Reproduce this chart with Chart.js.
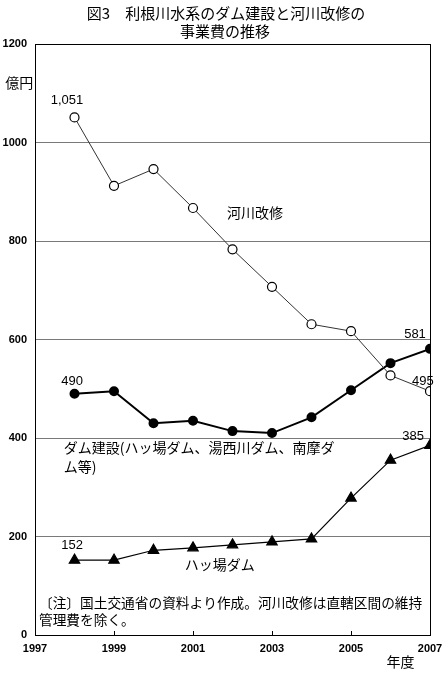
<!DOCTYPE html>
<html><head><meta charset="utf-8">
<script src="https://cdn.jsdelivr.net/npm/chart.js@4/dist/chart.umd.min.js"></script>
<style>html,body{margin:0;padding:0;background:#fff}#w{width:446px;height:676px}</style>
</head><body><div id="w"><canvas id="c"></canvas></div>
<script>
const years = [1998,1999,2000,2001,2002,2003,2004,2005,2006,2007];
const riverImprovement = [1051,912,946,867,783,707,631,617,527,495];
const damConstruction = [490,495,430,435,414,410,442,497,552,581];
const yambaDam = [152,152,172,177,183,189,195,278,355,385];
const titleLines = ['図3　利根川水系のダム建設と河川改修の','事業費の推移'];
const yTicks = [0,200,400,600,800,1000,1200];
const xTicks = [1997,1999,2001,2003,2005,2007];
const notes = ['〔注〕国土交通省の資料より作成。河川改修は直轄区間の維持','管理費を除く。'];

const JP = '"Noto Sans CJK JP", sans-serif';
const NUM = '"Liberation Sans", Arial, sans-serif';

const pts = arr => years.map((y,i)=>({x:y,y:arr[i]}));

const deco = {
  id:'deco',
  afterDraw(chart){
    const {ctx, chartArea:a, scales:{x,y}} = chart;
    ctx.save();
    ctx.strokeStyle='#000'; ctx.lineWidth=1;
    ctx.strokeRect(Math.round(a.left)+0.5, Math.round(a.top)+0.5, Math.round(a.right-a.left), Math.round(a.bottom-a.top));
    ctx.beginPath();
    xTicks.forEach(t=>{const px=Math.round(x.getPixelForValue(t))+0.5; ctx.moveTo(px,a.bottom); ctx.lineTo(px,a.bottom-4);});
    ctx.stroke();
    ctx.fillStyle='#000'; ctx.textAlign='center'; ctx.textBaseline='middle';
    ctx.font='15px '+JP;
    ctx.fillText(titleLines[0], 226, 13);
    ctx.fillText(titleLines[1], 225, 31);
    const T=(txt,xv,yv,font,align)=>{ctx.font=font; ctx.textAlign=align||'center'; ctx.fillText(txt,x.getPixelForValue(xv),y.getPixelForValue(yv));};
    const n='13px '+NUM;
    T('億円',1996.6,1121,'14px '+JP);
    T('1,051',1997.81,1086,n);
    T('河川改修',2002.57,857,'14px '+JP);
    T('490',1997.94,514,n);
    T('581',2006.62,611,n);
    T('495',2006.82,514,n);
    T('385',2006.57,404,n);
    T('ダム建設(ハッ場ダム、湯西川ダム、南摩ダ',1997.73,380,'14px '+JP,'left');
    T('ム等)',1997.73,341,'14px '+JP,'left');
    T('152',1997.94,181,n);
    T('ハッ場ダム',2001.68,142,'14px '+JP);
    T(notes[0],1997.1,65,'13.7px '+JP,'left');
    T(notes[1],1997.1,31,'13.7px '+JP,'left');
    ctx.font='14px '+JP; ctx.textAlign='center';
    ctx.fillText('年度', x.getPixelForValue(2006.25), a.bottom+27);
    ctx.restore();
  }
};

new Chart(document.getElementById('c'),{
  type:'line',
  data:{datasets:[
    {label:'河川改修',data:pts(riverImprovement),borderColor:'#333',borderWidth:1,pointStyle:'circle',pointRadius:4.5,pointBackgroundColor:'#fff',pointBorderColor:'#000',pointBorderWidth:1.2,tension:0},
    {label:'ダム建設',data:pts(damConstruction),borderColor:'#000',borderWidth:2,pointStyle:'circle',pointRadius:4,pointBackgroundColor:'#000',pointBorderColor:'#000',tension:0},
    {label:'ハッ場ダム',data:pts(yambaDam),borderColor:'#000',borderWidth:1.2,pointStyle:'triangle',pointRadius:6,pointBackgroundColor:'#000',pointBorderColor:'#000',tension:0}
  ]},
  options:{
    responsive:true,maintainAspectRatio:false,animation:false,
    layout:{padding:{top:44,left:0,right:16,bottom:19}},
    plugins:{legend:{display:false},tooltip:{enabled:false}},
    scales:{
      x:{type:'linear',min:1997,max:2007,
        afterBuildTicks(s){s.ticks=xTicks.map(v=>({value:v}));},
        afterFit(s){s.height=22;s.paddingRight=0;s.paddingLeft=0;},
        grid:{display:false,drawTicks:false},border:{display:false},
        ticks:{padding:7,color:'#000',font:{family:NUM,size:11,weight:'bold'},maxRotation:0,autoSkip:false,callback:v=>String(v)}},
      y:{min:0,max:1200,
        afterBuildTicks(s){s.ticks=yTicks.map(v=>({value:v}));},
        afterFit(s){s.width=35;s.paddingTop=0;s.paddingBottom=0;},
        grid:{color:c=>(c.tick&&(c.tick.value===0||c.tick.value===1200))?'rgba(0,0,0,0)':'#7a7a7a',lineWidth:1,drawTicks:false},
        border:{display:false},
        ticks:{padding:8,color:'#000',font:{family:NUM,size:11,weight:'bold'},callback:v=>String(v)}}
    }
  },
  plugins:[deco]
});
</script></body></html>
